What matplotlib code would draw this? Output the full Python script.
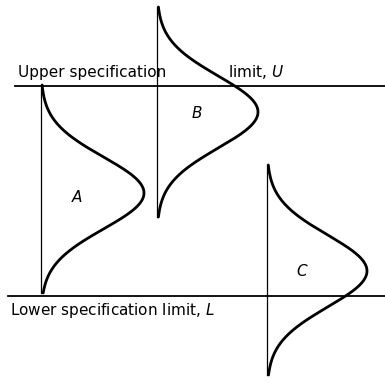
import numpy as np
import matplotlib
matplotlib.use("Agg")
import matplotlib.pyplot as plt

# Specification limits (vertical measurement scale)
upper_limit = 297
lower_limit = 87.5

# Distributions drawn sideways: name, baseline, mean, sigma, peak height, drawn range
names = ["A", "B", "C"]
baselines = [41, 157, 267]
means = [190, 271, 112]
sigmas = [36, 36, 36]
peaks = [103, 101, 100]
tops = [298, 376, 218]
bottoms = [90, 166, 8]
label_pos_x = [77, 197, 302]
label_pos_y = [186, 270, 111]

upper_text = ["Upper specification", "limit, $U$"]
lower_text = "Lower specification limit, $L$"

fig = plt.figure(figsize=(3.85, 3.83), dpi=100)
ax = fig.add_axes([0, 0, 1, 1])
ax.set_xlim(0, 385)
ax.set_ylim(0, 383)
ax.axis("off")

# spec limit lines
ax.plot([15, 385], [upper_limit, upper_limit], color="black", lw=1.3)
ax.plot([8, 385], [lower_limit, lower_limit], color="black", lw=1.3)

for n, b, m, s, p, t, bt, lx, ly in zip(names, baselines, means, sigmas, peaks,
                                         tops, bottoms, label_pos_x, label_pos_y):
    y = np.linspace(bt, t, 400)
    x = b + p * np.exp(-0.5 * ((y - m) / s) ** 2)
    ax.plot(x, y, color="black", lw=2.0, solid_capstyle="round")
    ax.plot([b, b], [bt, t], color="black", lw=0.9)
    ax.text(lx, ly, n, fontsize=11, style="italic", ha="center", va="center")

ax.text(18, 306, upper_text[0], fontsize=11, ha="left", va="baseline")
ax.text(228, 306, upper_text[1], fontsize=11, ha="left", va="baseline")
ax.text(10, 68, lower_text, fontsize=11, ha="left", va="baseline")

fig.savefig("out.png", dpi=100, facecolor="white")
